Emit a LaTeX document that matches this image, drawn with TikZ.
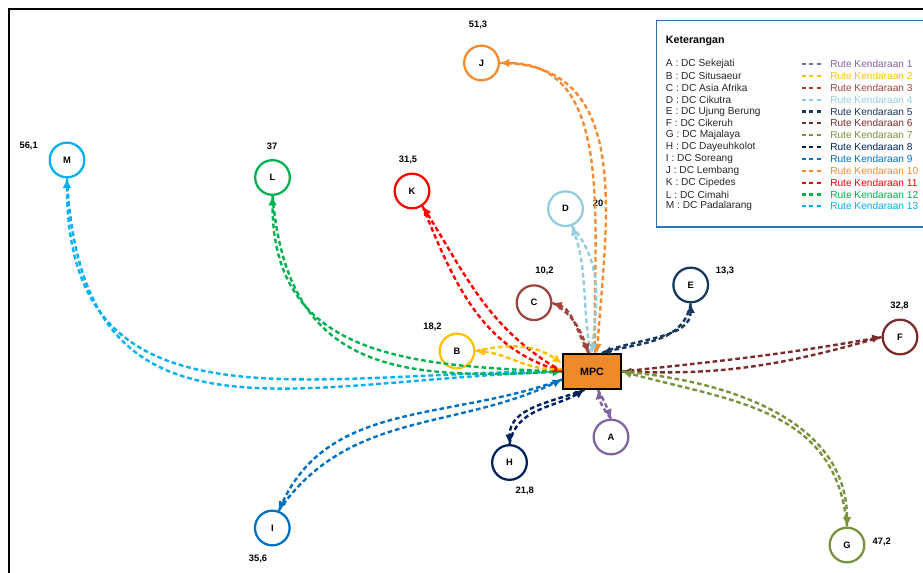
\documentclass[tikz,border=0pt]{standalone}
\usepackage{fontspec}
\setmainfont{Liberation Sans}
\usetikzlibrary{arrows.meta}
\definecolor{cA}{HTML}{8064A2}
\definecolor{cB}{HTML}{FFC000}
\definecolor{cC}{HTML}{A0433A}
\definecolor{cD}{HTML}{93CDDD}
\definecolor{cE}{HTML}{17375E}
\definecolor{cF}{HTML}{7B2C2A}
\definecolor{cG}{HTML}{77933C}
\definecolor{cH}{HTML}{002060}
\definecolor{cI}{HTML}{0070C0}
\definecolor{cJ}{HTML}{F58A2E}
\definecolor{cK}{HTML}{FF0000}
\definecolor{cL}{HTML}{00B050}
\definecolor{cM}{HTML}{00B0F0}
\definecolor{mpcfill}{HTML}{EF8A2B}
\definecolor{legblue}{HTML}{2E75B6}
\begin{document}
\begin{tikzpicture}[x=0.75pt,y=-0.75pt,
  dc/.style={circle,draw=#1,line width=1.7pt,minimum size=26pt,inner sep=0pt,font=\fontsize{7}{8}\selectfont\bfseries},
  val/.style={font=\fontsize{7}{8}\selectfont\bfseries,inner sep=0pt},
  rute/.style={draw=#1,line width=1.8pt,dash pattern=on 3.5pt off 2.2pt,-{Latex[length=7pt,width=6.5pt]}},
  legtext/.style={anchor=west,inner sep=0pt,font=\fontsize{7.6}{9}\selectfont},
  legsample/.style={draw=#1,line width=1.6pt,dash pattern=on 3pt off 2.6pt}
]
\useasboundingbox (0,0) rectangle (923,573);
% frame
\coordinate (f1) at (9,575);
\coordinate (f2) at (9,9);
\coordinate (f3) at (925,9);
\draw[line width=1pt] (f1) -- (f2) -- (f3);

% legend
\coordinate (lb1) at (656.7,20.7);
\coordinate (lb2) at (940,227);
\draw[legblue,line width=0.9pt] (lb1) rectangle (lb2);
\node[anchor=west,inner sep=0pt,font=\fontsize{8}{9}\selectfont\bfseries] (ket) at (665.7,40.7) {Keterangan};
\foreach \l/\n/\c [count=\i] in {A/DC Sekejati/cA, B/DC Situsaeur/cB, C/DC Asia Afrika/cC, D/DC Cikutra/cD, E/DC Ujung Berung/cE, F/DC Cikeruh/cF, G/DC Majalaya/cG, H/DC Dayeuhkolot/cH, I/DC Soreang/cI, J/DC Lembang/cJ, K/DC Cipedes/cK, L/DC Cimahi/cL, M/DC Padalarang/cM}{
  \node[legtext,text=black!85] (leg\i) at (665.7,{64+11.86*(\i-1)}) {\l\ : \n};
  \coordinate (ls\i) at (801.7,{64+11.86*(\i-1)});
  \coordinate (le\i) at (823,{64+11.86*(\i-1)});
  \draw[legsample=\c] (ls\i) -- (le\i);
  \node[legtext,text=\c] (rt\i) at (830,{64+11.86*(\i-1)}) {Rute Kendaraan \i};
}

% nodes
\node[rectangle,draw=black,line width=1.4pt,fill=mpcfill,minimum width=43.5pt,minimum height=26.2pt,inner sep=0pt,font=\fontsize{8}{9}\selectfont\bfseries] (MPC) at (592,371.5) {MPC};
\node[dc=cA] (A) at (611,437) {A};
\node[dc=cB] (B) at (457,351) {B};
\node[dc=cC] (C) at (534,302.7) {C};
\node[dc=cD] (D) at (565.5,208.7) {D};
\node[dc=cE] (E) at (690.7,285) {E};
\node[dc=cF] (F) at (900,337) {F};
\node[dc=cG] (G) at (847,545) {G};
\node[dc=cH] (H) at (509.5,462.5) {H};
\node[dc=cI] (I) at (272.3,528) {I};
\node[dc=cJ] (J) at (481.5,63) {J};
\node[dc=cK] (K) at (412,191) {K};
\node[dc=cL] (L) at (272.5,177.5) {L};
\node[dc=cM] (M) at (67,160) {M};

% values
\node[val] (vB) at (432.5,326.7) {18,2};
\node[val] (vC) at (544.5,270.7) {10,2};
\node[val] (vD) at (598,203) {20};
\node[val] (vE) at (725,271) {13,3};
\node[val] (vF) at (899.5,306) {32,8};
\node[val] (vG) at (881.7,542) {47,2};
\node[val] (vH) at (524.7,490.7) {21,8};
\node[val] (vI) at (258,559.3) {35,6};
\node[val] (vJ) at (478,25) {51,3};
\node[val] (vK) at (408,160) {31,5};
\node[val] (vL) at (272,146) {37};
\node[val] (vM) at (28.7,146) {56,1};

% routes
% M
\draw[rute=cM] (MPC.west) to[out=180,in=-90,looseness=1.25] (M.south);
\draw[rute=cM] (M.south) to[out=-87,in=182,looseness=1.35] (MPC.west);
% L
\draw[rute=cL] (MPC.west) to[out=178,in=-90,looseness=1.2] (L.south);
\draw[rute=cL] (L.south) to[out=-85,in=183,looseness=1.3] (MPC.west);
% K
\draw[rute=cK] (MPC.west) to[out=150,in=-58,looseness=1.0] (K.-55);
\draw[rute=cK] (K.-55) to[out=-68,in=162,looseness=1.0] (MPC.west);
% J
\draw[rute=cJ] (MPC.80) to[out=92,in=0,looseness=1.0] (J.east);
\draw[rute=cJ] (J.east) to[out=0,in=86,looseness=1.12] (MPC.75);
% D
\draw[rute=cD] (MPC.95) to[out=100,in=-70,looseness=0.9] (D.-70);
\draw[rute=cD] (D.-70) to[out=-50,in=85,looseness=1.0] (MPC.90);
% C
\draw[rute=cC] (MPC.100) to[out=120,in=-20,looseness=0.9] (C.east);
\draw[rute=cC] (C.east) to[out=-30,in=110,looseness=1.0] (MPC.100);
% E
\draw[rute=cE] (MPC.62) to[out=25,in=-90,looseness=0.9] (E.south);
\draw[rute=cE] (E.south) to[out=-100,in=15,looseness=1.0] (MPC.62);
% F
\draw[rute=cF] (MPC.east) to[out=6,in=190,looseness=1.0] (F.west);
\draw[rute=cF] (F.west) to[out=196,in=-2,looseness=1.0] (MPC.east);
% G
\draw[rute=cG] (MPC.east) to[out=-5,in=90,looseness=1.0] (G.north);
\draw[rute=cG] (G.north) to[out=95,in=-15,looseness=1.1] (MPC.east);
% A
\draw[rute=cA] (MPC.-72) to[out=-60,in=110,looseness=1.0] (A.north);
\draw[rute=cA] (A.north) to[out=130,in=-80,looseness=1.0] (MPC.-72);
% H
\draw[rute=cH] (MPC.-112) to[out=200,in=90,looseness=1.0] (H.north);
\draw[rute=cH] (H.north) to[out=80,in=-150,looseness=1.0] (MPC.-112);
% I
\draw[rute=cI] (MPC.-165) to[out=200,in=65,looseness=1.0] (I.70);
\draw[rute=cI] (I.70) to[out=55,in=205,looseness=1.0] (MPC.-165);
% B
\draw[rute=cB] (B.east) to[out=12,in=145,looseness=1.0] (MPC.165);
\draw[rute=cB] (MPC.175) to[out=185,in=-5,looseness=1.0] (B.east);
\end{tikzpicture}
\end{document}
